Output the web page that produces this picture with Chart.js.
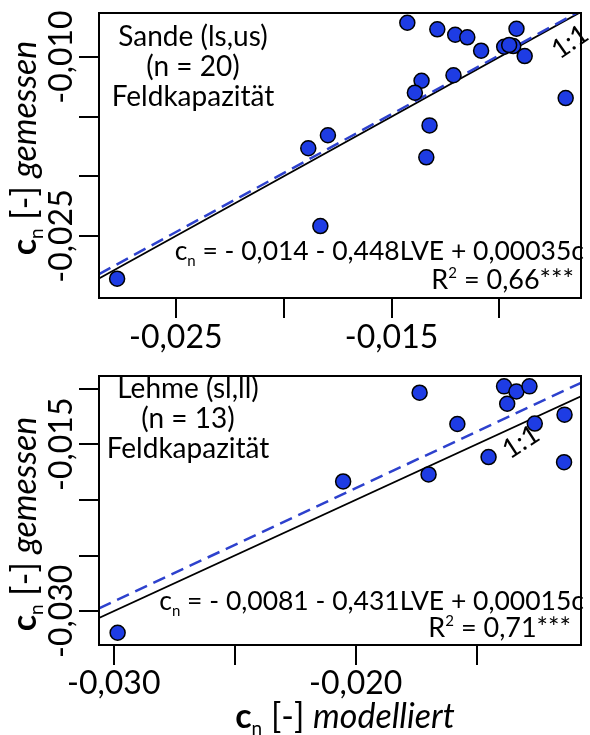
<!DOCTYPE html>
<html>
<head>
<meta charset="utf-8">
<script src="https://cdn.jsdelivr.net/npm/chart.js@4.4.1/dist/chart.umd.min.js"></script>
<style>
body{margin:0;background:#fff;}
canvas{display:block;}
</style>
</head>
<body>
<canvas id="top" width="590" height="367"></canvas>
<canvas id="bottom" width="590" height="368"></canvas>
<script>
// Sande (ls,us), n = 20
const sandeX = [-0.01427,-0.01288,-0.01205,-0.01149,-0.01085,-0.00978,-0.00936,-0.00921,-0.00883,-0.00693,
                -0.01361,-0.01392,-0.01213,-0.01324,-0.01339,-0.01795,-0.01886,-0.01830,-0.02772,-0.00955];
const sandeY = [-0.00713,-0.00768,-0.00813,-0.00835,-0.00947,-0.00914,-0.00908,-0.00763,-0.00992,-0.01344,
                -0.01199,-0.01299,-0.01153,-0.01573,-0.01841,-0.01656,-0.01765,-0.02417,-0.02858,-0.00900];
const sandeSolidX = [-0.02856, -0.00622];
const sandeSolidY = [-0.02856, -0.00622];
const sandeDashX = [-0.02856, -0.00622];
const sandeDashY = [-0.0282, -0.0061];
const sandeXTicks = [-0.025, -0.020, -0.015, -0.010];
const sandeXLabels = ['-0,025', '', '-0,015', ''];
const sandeYTicks = [-0.010, -0.015, -0.020, -0.025];
const sandeYLabels = ['-0,010', '', '', '-0,025'];

// Lehme (sl,ll), n = 13
const lehmeX = [-0.01736,-0.01387,-0.01336,-0.01282,-0.01374,-0.01580,-0.01260,-0.01137,-0.01451,-0.01139,-0.01699,-0.02052,-0.02984];
const lehmeY = [-0.01037,-0.00980,-0.01026,-0.00980,-0.01136,-0.01318,-0.01314,-0.01234,-0.01615,-0.01661,-0.01771,-0.01834,-0.03193];
const lehmeSolidX = [-0.03061, -0.01069];
const lehmeSolidY = [-0.03061, -0.01069];
const lehmeDashX = [-0.03061, -0.01069];
const lehmeDashY = [-0.02974, -0.00948];
const lehmeXTicks = [-0.030, -0.025, -0.020, -0.015];
const lehmeXLabels = ['-0,030', '', '-0,020', ''];
const lehmeYTicks = [-0.010, -0.015, -0.020, -0.025, -0.030];
const lehmeYLabels = ['', '-0,015', '', '', '-0,030'];

const FONT = 'Lato';
const BLUE = 'rgb(30,60,228)';

function pts(xs, ys) {
    let out = [];
    for (let i = 0; i < xs.length; i++) out.push({x: xs[i], y: ys[i]});
    return out;
}

// draw a list of text pieces with different fonts on one line
function drawParts(ctx, parts, x, y, align) {
    let w = 0;
    for (const p of parts) { ctx.font = p.font; w += ctx.measureText(p.t).width; }
    let cx = align == 'right' ? x - w : (align == 'center' ? x - w / 2 : x);
    for (const p of parts) {
        ctx.font = p.font;
        ctx.fillText(p.t, cx, y + (p.dy || 0));
        cx += ctx.measureText(p.t).width;
    }
}

function titleParts(word, size) {
    return [
        {t: 'c', font: 'bold ' + size + 'px ' + FONT},
        {t: 'n', font: Math.round(size * 0.55) + 'px ' + FONT, dy: 7},
        {t: ' [-] ', font: size + 'px ' + FONT},
        {t: word, font: 'italic ' + size + 'px ' + FONT}
    ];
}

function makePanel(id, p) {
    const deco = {
        id: 'deco',
        afterDraw(chart) {
            const ctx = chart.ctx;
            const a = chart.chartArea;
            const xs = chart.scales.x, ys = chart.scales.y;
            ctx.save();
            ctx.strokeStyle = '#000';
            ctx.lineWidth = 2;
            ctx.strokeRect(a.left, a.top, a.right - a.left, a.bottom - a.top);
            ctx.fillStyle = '#000';
            ctx.textBaseline = 'alphabetic';
            // x tick labels
            ctx.font = '32px ' + FONT;
            ctx.textAlign = 'center';
            p.xTicks.forEach((v, i) => {
                if (p.xLabels[i]) ctx.fillText(p.xLabels[i], xs.getPixelForValue(v), p.xLabelY);
            });
            // y tick labels, rotated
            p.yTicks.forEach((v, i) => {
                if (!p.yLabels[i]) return;
                ctx.save();
                ctx.translate(p.yLabelX, ys.getPixelForValue(v));
                ctx.rotate(-Math.PI / 2);
                ctx.fillText(p.yLabels[i], 0, 0);
                ctx.restore();
            });
            ctx.textAlign = 'left';
            // y title
            ctx.save();
            ctx.translate(36, p.yTitleY);
            ctx.rotate(-Math.PI / 2);
            drawParts(ctx, titleParts('gemessen', 34), 0, 0, 'center');
            ctx.restore();
            if (p.xTitleY) drawParts(ctx, titleParts('modelliert', 34), 345, p.xTitleY, 'center');
            // group label
            ctx.font = '28px ' + FONT;
            ctx.textAlign = 'center';
            p.group.forEach((t, i) => ctx.fillText(t, p.groupX, p.groupY[i]));
            ctx.textAlign = 'left';
            // equation
            drawParts(ctx, [
                {t: 'c', font: '26.5px ' + FONT},
                {t: 'n', font: '15px ' + FONT, dy: 6},
                {t: p.eq, font: '26.5px ' + FONT}
            ], 584, p.eqY, 'right');
            drawParts(ctx, [
                {t: 'R', font: '27px ' + FONT},
                {t: '2', font: '15px ' + FONT, dy: -11},
                {t: p.r2, font: '27px ' + FONT}
            ], p.r2X, p.r2Y, 'right');
            // 1:1
            ctx.save();
            ctx.translate(p.oneX, p.oneY);
            ctx.rotate(p.oneRot * Math.PI / 180);
            ctx.font = '27px ' + FONT;
            ctx.textAlign = 'center';
            ctx.textBaseline = 'middle';
            ctx.fillText('1:1', 0, 0);
            ctx.restore();
            ctx.restore();
        }
    };
    return new Chart(document.getElementById(id), {
        type: 'scatter',
        data: {
            datasets: [
                {data: pts(p.x, p.y), backgroundColor: BLUE, borderColor: '#000', borderWidth: 1.5, pointRadius: 7.5},
                {data: pts(p.dashX, p.dashY), showLine: true, borderColor: 'rgb(45,65,205)', borderWidth: 2.5,
                 borderDash: [13, 7], pointRadius: 0},
                {data: pts(p.solidX, p.solidY), showLine: true, borderColor: '#000', borderWidth: 1.8, pointRadius: 0}
            ]
        },
        options: {
            responsive: false,
            animation: false,
            devicePixelRatio: 1,
            layout: {padding: {left: 0, right: 1, top: p.padTop, bottom: 0}},
            plugins: {legend: {display: false}, tooltip: {enabled: false}},
            scales: {
                x: {
                    min: p.xMin, max: p.xMax,
                    afterBuildTicks: (s) => { s.ticks = p.xTicks.map(v => ({value: v})); },
                    afterFit: (s) => { s.height = p.xHeight; },
                    ticks: {display: false},
                    border: {display: false},
                    grid: {drawOnChartArea: false, drawTicks: true, tickLength: 20, color: '#000', lineWidth: 2}
                },
                y: {
                    min: p.yMin, max: p.yMax,
                    afterBuildTicks: (s) => { s.ticks = p.yTicks.map(v => ({value: v})); },
                    afterFit: (s) => { s.width = 99; },
                    ticks: {display: false},
                    border: {display: false},
                    grid: {drawOnChartArea: false, drawTicks: true, tickLength: 20, color: '#000', lineWidth: 2}
                }
            }
        },
        plugins: [deco]
    });
}

makePanel('top', {
    x: sandeX, y: sandeY, dashX: sandeDashX, dashY: sandeDashY, solidX: sandeSolidX, solidY: sandeSolidY,
    xMin: -0.02856, xMax: -0.00622, yMin: -0.0302, yMax: -0.00631,
    xTicks: sandeXTicks, xLabels: sandeXLabels, yTicks: sandeYTicks, yLabels: sandeYLabels,
    padTop: 13, xHeight: 69, xLabelY: 348, yLabelX: 72, yTitleY: 148, xTitleY: 0,
    group: ['Sande (ls,us)', '(n = 20)', 'Feldkapazität'], groupX: 193, groupY: [46, 76, 106],
    eq: ' = - 0,014 - 0,448LVE + 0,00035c', eqY: 260, r2: ' = 0,66***', r2X: 574, r2Y: 289,
    oneX: 570, oneY: 42, oneRot: -35
});

makePanel('bottom', {
    x: lehmeX, y: lehmeY, dashX: lehmeDashX, dashY: lehmeDashY, solidX: lehmeSolidX, solidY: lehmeSolidY,
    xMin: -0.03061, xMax: -0.01069, yMin: -0.03303, yMax: -0.00887,
    xTicks: lehmeXTicks, xLabels: lehmeXLabels, yTicks: lehmeYTicks, yLabels: lehmeYLabels,
    padTop: 1, xHeight: 90, xLabelY: 327, yLabelX: 72, yTitleY: 157, xTitleY: 361,
    group: ['Lehme (sl,ll)', '(n = 13)', 'Feldkapazität'], groupX: 188, groupY: [31, 61, 91],
    eq: ' = - 0,0081 - 0,431LVE + 0,00015c', eqY: 243, r2: ' = 0,71***', r2X: 571, r2Y: 270,
    oneX: 521, oneY: 75, oneRot: -33
});
</script>
</body>
</html>
